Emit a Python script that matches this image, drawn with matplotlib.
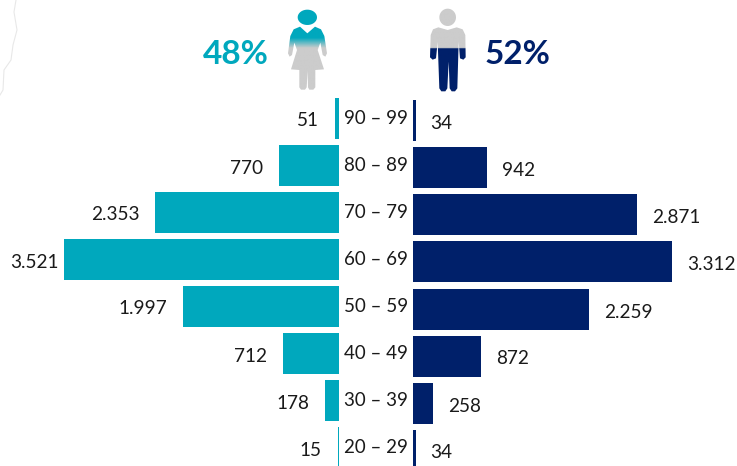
import numpy as np
from matplotlib import pyplot as plt
from matplotlib.colors import LinearSegmentedColormap
from matplotlib.patches import PathPatch
from matplotlib.path import Path

plt.rcParams['font.family'] = ['Lato', 'DejaVu Sans']

TEAL = '#00a8bd'
NAVY = '#00206a'
GREY = '#cccccc'
W, H = 737, 466
SCALE = 0.0781  # pixels per person

age_groups = ['90 – 99', '80 – 89', '70 – 79', '60 – 69',
              '50 – 59', '40 – 49', '30 – 39', '20 – 29']
women = [51, 770, 2353, 3521, 1997, 712, 178, 15]
men = [34, 942, 2871, 3312, 2259, 872, 258, 34]
women_labels = ['51', '770', '2.353', '3.521', '1.997', '712', '178', '15']
men_labels = ['34', '942', '2.871', '3.312', '2.259', '872', '258', '34']
share_women = '48%'
share_men = '52%'

fig = plt.figure(figsize=(W / 100, H / 100), dpi=100)

# left and right wings, rows are 47 px apart
ax_l = fig.add_axes([0, 0, 339 / W, 1])
ax_r = fig.add_axes([413 / W, 0, (W - 413) / W, 1])
ax_l.set_xlim(339 / SCALE, 0)
ax_r.set_xlim(0, (W - 413) / SCALE)
ax_l.set_ylim((H - 118) / 47, -118 / 47)
ax_r.set_ylim((H - 121) / 47, -121 / 47)

rows = np.arange(len(age_groups))
ax_l.barh(rows, women, height=41 / 47, color=TEAL)
ax_r.barh(rows, men, height=41 / 47, color=NAVY)

for i in rows:
    # the longest bar has its label squeezed against the picture edge
    gap = -5 if women[i] == max(women) else -16
    ax_l.annotate(women_labels[i], (women[i], i), xytext=(gap, -3),
                  textcoords='offset pixels', ha='right', va='center',
                  fontsize=13.7, color='#1a1a1a')
    ax_r.annotate(men_labels[i], (men[i], i), xytext=(15, -3),
                  textcoords='offset pixels', ha='left', va='center',
                  fontsize=13.7, color='#1a1a1a')
for ax in (ax_l, ax_r):
    ax.axis('off')

# overlay in pixel coordinates for header, age labels and icons
ov = fig.add_axes([0, 0, 1, 1], facecolor='none')
ov.set_xlim(0, W)
ov.set_ylim(H, 0)
ov.axis('off')

for i in rows:
    ov.text(376, 118.5 + 47 * i, age_groups[i], ha='center', va='center',
            fontsize=13.5, color='#1a1a1a')

ov.text(235.5, 54, share_women, ha='center', va='center', fontsize=24,
        fontweight='bold', color=TEAL)
ov.text(517, 54, share_men, ha='center', va='center', fontsize=24,
        fontweight='bold', color=NAVY)

# faint map outline in the corner
ov.plot([16, 14, 17, 13, 11, 4, 3, 0], [0, 12, 30, 45, 60, 70, 90, 95],
        color='#e8e8e8', lw=0.8)


def z(points):
    # crop coordinates -> picture pixels
    return [(190 + x / 3, y / 3) for x, y in points]


def icon(parts, colors, stops, box):
    verts, codes = [], []
    for part in parts:
        p = z(part)
        verts += p + [p[0]]
        codes += [Path.MOVETO] + [Path.LINETO] * (len(p) - 1) + [Path.CLOSEPOLY]
    path = Path(verts, codes)
    cmap = LinearSegmentedColormap.from_list('fill', list(zip(stops, colors)))
    im = ov.imshow(np.linspace(0, 1, 200).reshape(-1, 1), cmap=cmap,
                   extent=box, aspect='auto', zorder=3, interpolation='bilinear')
    patch = PathPatch(path, fc='none', ec='none', transform=ov.transData)
    ov.add_patch(patch)
    im.set_clip_path(patch)


def oval(cx, cy, rx, ry):
    t = np.linspace(0, 2 * np.pi, 40)[:-1]
    return list(zip(cx + rx * np.cos(t), cy + ry * np.sin(t)))


woman = [
    oval(352, 52, 29, 23),
    [(330, 80), (352, 100), (375, 80), (393, 88), (403, 108), (411, 160),
     (406, 170), (398, 165), (391, 128), (383, 150), (402, 208), (376, 210),
     (376, 262), (370, 269), (358, 269), (354, 262), (353, 212), (350, 262),
     (345, 269), (333, 269), (328, 262), (328, 210), (303, 208), (321, 150),
     (313, 128), (306, 165), (299, 170), (294, 160), (301, 108), (311, 88)],
]
man = [
    oval(773, 52, 25, 26),
    [(745, 82), (773, 90), (800, 82), (818, 88), (826, 105), (827, 172),
     (820, 179), (810, 175), (806, 125), (802, 265), (795, 274), (785, 274),
     (779, 265), (776, 185), (772, 265), (766, 274), (754, 274), (748, 265),
     (743, 125), (738, 175), (728, 179), (720, 172), (722, 105), (729, 88)],
]
icon(woman, [TEAL, TEAL, GREY, GREY], [0, 0.41, 0.52, 1], (288, 328, 92, 0))
icon(man, [GREY, GREY, NAVY, NAVY], [0, 0.52, 0.525, 1], (428, 468, 92, 0))
ov.set_xlim(0, W)
ov.set_ylim(H, 0)

fig.savefig('out.png', dpi=100)
